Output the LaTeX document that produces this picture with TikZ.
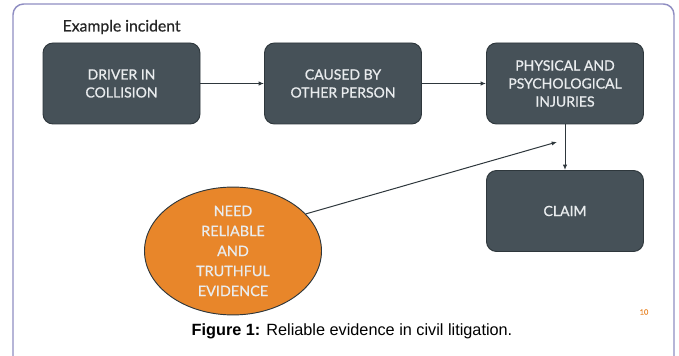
\documentclass[tikz,border=0pt]{standalone}
\usepackage{fontspec}
\setmainfont{Liberation Sans}
\newfontfamily\slidefont[FakeBold=0.8]{Lato}
\usepackage{xcolor}
\usetikzlibrary{arrows.meta,shapes.geometric}

\definecolor{boxgray}{HTML}{465158}
\definecolor{boxedge}{HTML}{2E373C}
\definecolor{boxtext}{HTML}{E9ECEE}
\definecolor{evidorange}{HTML}{E8862A}
\definecolor{framelilac}{HTML}{8F8DC2}

\tikzset{
  stepbox/.style={draw=boxedge,fill=boxgray,line width=0.7pt,rounded corners=7.5pt,
    minimum width=117.75pt,minimum height=60.75pt,align=center,text=boxtext,
    font=\slidefont\fontsize{10.5}{13.5}\selectfont},
  evidbox/.style={ellipse,draw=boxedge,fill=evidorange,line width=0.7pt,
    minimum width=132.75pt,minimum height=92.25pt,inner sep=0pt,align=center,text=boxtext,
    font=\slidefont\fontsize{10.8}{15}\selectfont},
  link/.style={->,line width=0.75pt,draw=boxedge}
}

\begin{document}
\begin{tikzpicture}[x=0.75pt,y=-0.75pt,>={Latex[length=4pt,width=3.2pt]}]
  \useasboundingbox (0,0) rectangle (679,356);
  % slide frame
  \draw[framelilac,line width=1.1pt,rounded corners=8pt] (13,362) -- (13,4) -- (674,4) -- (674,362);

  \node[anchor=west,text=black!85,font=\slidefont\fontsize{11.8}{13}\selectfont] (title) at (58,27) {Example incident};

  \node[stepbox] (driver) at (121.5,83.5) {DRIVER IN\\COLLISION};
  \node[stepbox] (caused) at (343,83.5) {CAUSED BY\\OTHER PERSON};
  \node[stepbox] (phys) at (565,83.5) {PHYSICAL AND\\PSYCHOLOGICAL\\INJURIES};
  \node[stepbox] (claim) at (565,211) {CLAIM};
  \node[evidbox] (evid) at (233,251) {NEED\\RELIABLE\\AND\\TRUTHFUL\\EVIDENCE};
  \coordinate (tip) at (557,142);

  \draw[link] (driver) -- (caused);
  \draw[link] (caused) -- (phys);
  \draw[link] (phys) -- (claim);
  \draw[link] (evid.27) -- (tip);

  \node[text=evidorange,font=\slidefont\fontsize{5.5}{6}\selectfont] (pagenum) at (644,312) {10};
  \node[font=\fontsize{12.2}{14}\selectfont] (caption) at (352,331)
    {\textbf{Figure 1:} Reliable evidence in civil litigation.};
\end{tikzpicture}
\end{document}
